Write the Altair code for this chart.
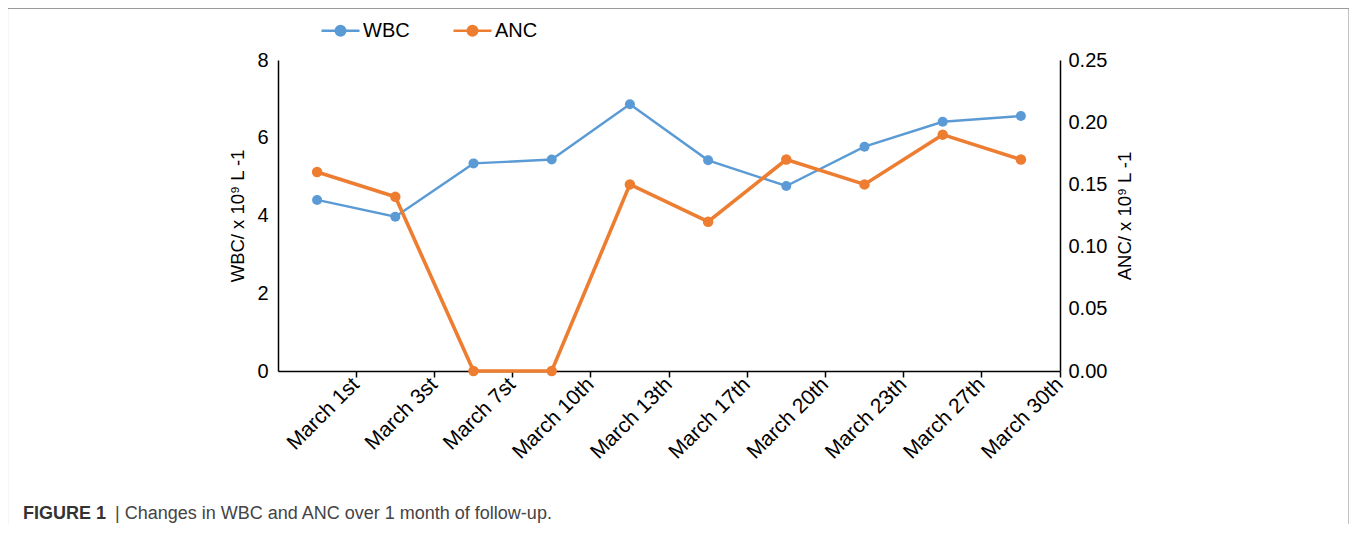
import altair as alt
import pandas as pd

dates = ["March 1st", "March 3st", "March 7st", "March 10th", "March 13th",
         "March 17th", "March 20th", "March 23th", "March 27th", "March 30th"]
wbc = [4.40, 3.97, 5.34, 5.44, 6.86, 5.42, 4.76, 5.77, 6.41, 6.56]
anc = [0.16, 0.14, 0.0, 0.0, 0.15, 0.12, 0.17, 0.15, 0.19, 0.17]
series_names = ["WBC", "ANC"]
series_colors = ["#5B9BD5", "#ED7D31"]
wbc_ticks = [0, 2, 4, 6, 8]
anc_ticks = [0.0, 0.05, 0.10, 0.15, 0.20, 0.25]
left_title = "WBC/ x 10\u2079 L -1"
right_title = "ANC/ x 10\u2079 L -1"
caption_bold = "FIGURE 1"
caption_text = "| Changes in WBC and ANC over 1 month of follow-up."

FONT = "Liberation Sans"

df_w = pd.DataFrame({"date": dates, "value": wbc, "series": "WBC"})
df_a = pd.DataFrame({"date": dates, "value": anc, "series": "ANC"})

legend_path = "M-1,0L1,0M0.25,0A0.25,0.25,0,1,1,-0.25,0A0.25,0.25,0,1,1,0.25,0Z"

color = alt.Color(
    "series:N",
    scale=alt.Scale(domain=series_names, range=series_colors),
    legend=alt.Legend(
        title=None, orient="none", legendX=42, legendY=-50, direction="horizontal",
        symbolType=legend_path, symbolSize=1444, symbolStrokeWidth=2.5,
        labelFont=FONT, labelFontSize=20, labelColor="#000", labelOffset=2,
        columnPadding=38, padding=0,
    ),
)

xenc = alt.X(
    "date:N", sort=dates, bandPosition=0.5,
    scale=alt.Scale(type="band", paddingInner=0, paddingOuter=0),
    axis=alt.Axis(
        title=None, bandPosition=1, labelAngle=-45, labelAlign="right",
        labelBaseline="middle", labelFont=FONT, labelFontSize=21, labelColor="#000",
        labelPadding=4, labelOffset=39, tickSize=6, tickColor="#000", tickWidth=1.5,
        domainColor="#000", domainWidth=1.5, grid=False, labelOverlap=False,
    ),
)

yw = alt.Y(
    "value:Q", scale=alt.Scale(domain=[0, 8], nice=False),
    axis=alt.Axis(
        orient="left", values=wbc_ticks, ticks=False, grid=False, title=left_title,
        titleFont=FONT, titleFontSize=18.5, titleFontWeight="normal", titleColor="#000",
        titlePadding=9, labelFont=FONT, labelFontSize=20, labelColor="#000",
        labelPadding=10, domainColor="#000", domainWidth=1.5,
    ),
)

ya = alt.Y(
    "value:Q", scale=alt.Scale(domain=[0, 0.25], nice=False),
    axis=alt.Axis(
        orient="right", values=anc_ticks, format=".2f", ticks=False, grid=False,
        title=right_title, titleAngle=270, titleBaseline="top", titleFont=FONT,
        titleFontSize=18.5, titleFontWeight="normal", titleColor="#000", titlePadding=9,
        labelFont=FONT, labelFontSize=20, labelColor="#000", labelPadding=8,
        domainColor="#000", domainWidth=1.5,
    ),
)

wbc_layer = alt.Chart(df_w).encode(x=xenc, y=yw, color=color)
wbc_chart = wbc_layer.mark_line(strokeWidth=2.4) + wbc_layer.mark_point(
    filled=True, size=100, opacity=1)

anc_layer = alt.Chart(df_a).encode(x=xenc, y=ya, color=color)
anc_chart = anc_layer.mark_line(strokeWidth=3.6) + anc_layer.mark_point(
    filled=True, size=110, opacity=1)

one = alt.Data(values=[{"k": 1}])
frame = alt.Chart(one).mark_rect(filled=False, stroke="#9a9a9a", strokeWidth=1.2).encode(
    x=alt.value(-270.5), x2=alt.value(1071), y=alt.value(-51.5), y2=alt.value(600))

cap1 = alt.Chart(one).mark_text(
    font=FONT, fontSize=18, fontWeight="bold", align="left", baseline="alphabetic",
    color="#333").encode(x=alt.value(-255), y=alt.value(459), text=alt.value(caption_bold))
cap2 = alt.Chart(one).mark_text(
    font=FONT, fontSize=18, align="left", baseline="alphabetic",
    color="#444").encode(x=alt.value(-163), y=alt.value(459), text=alt.value(caption_text))

chart = alt.layer(wbc_chart, anc_chart, frame, cap1, cap2).resolve_scale(
    y="independent"
).properties(
    width=782, height=311,
    autosize=alt.AutoSizeParams(type="none"),
    padding={"left": 270, "top": 52, "right": 289, "bottom": 153},
).configure_view(stroke=None)

chart.save("out.html", embed_options={"renderer": "svg", "actions": False})
